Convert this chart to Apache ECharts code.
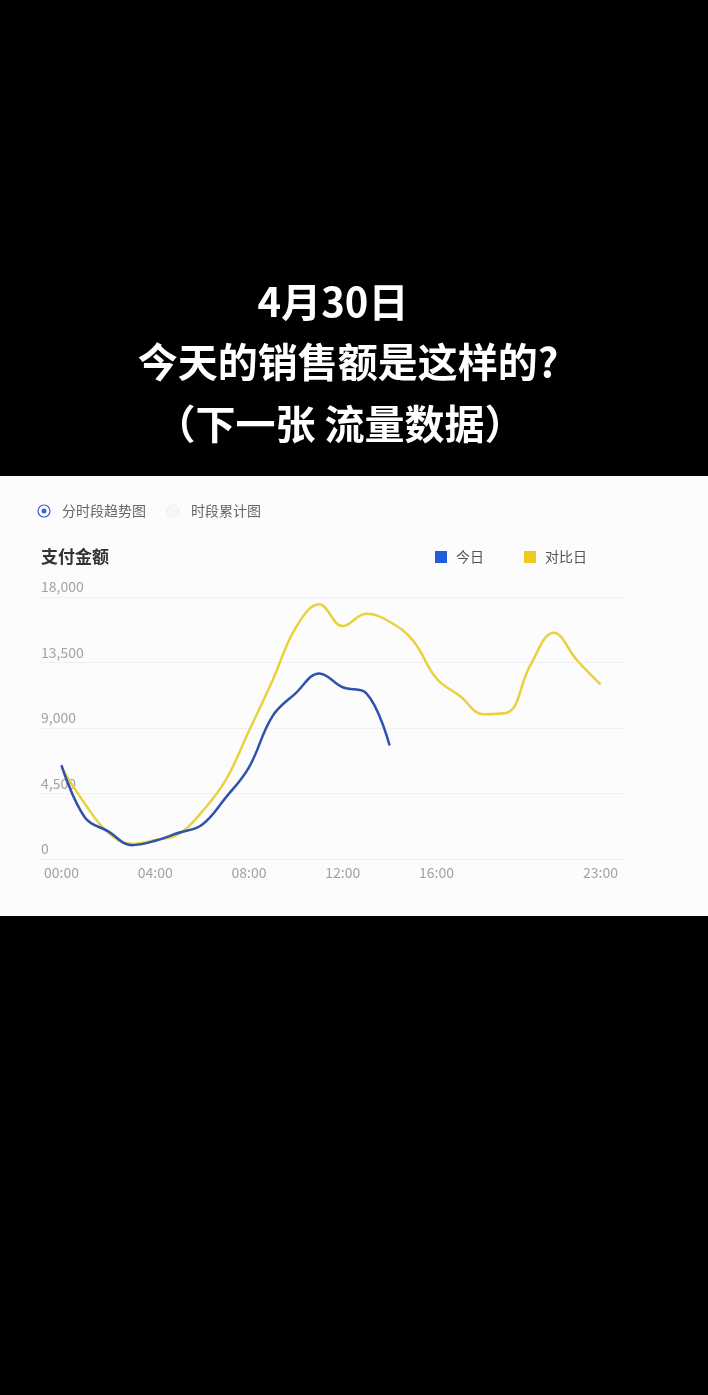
<!DOCTYPE html>
<html>
<head>
<meta charset="utf-8">
<script src="https://cdn.jsdelivr.net/npm/echarts@6/dist/echarts.min.js"></script>
<style>
  html, body { margin: 0; padding: 0; background: #000; }
  #chart { width: 708px; height: 1395px; }
</style>
</head>
<body>
<div id="chart"></div>
<script>
// hours 0..23, payment amount
var hours = [0, 1, 2, 3, 4, 5, 6, 7, 8, 9, 10, 11, 12, 13, 14, 15, 16, 17, 18, 19, 20, 21, 22, 23];
var today = [6450, 2850, 1900, 950, 1250, 1800, 2350, 4200, 6300, 9800, 11400, 12750, 11800, 11400, 7800];
var compareDay = [6300, 3800, 1800, 1050, 1300, 1700, 3250, 5400, 8800, 12250, 15900, 17500,
    16000, 16850, 16300, 15000, 12400, 11200, 9950, 10050, 13300, 15550, 13650, 12000];
var tickHours = [0, 4, 8, 12, 16, 23];
var seriesNames = ['今日', '对比日'];

var font = '"Noto Sans CJK SC", "Noto Sans", sans-serif';

function pairs(vals) {
    var out = [];
    for (var i = 0; i < vals.length; i++) {
        out.push([hours[i], vals[i]]);
    }
    return out;
}
function hh(v) {
    return (v < 10 ? '0' : '') + v + ':00';
}

var myChart = echarts.init(document.getElementById('chart'));

var option = {
    backgroundColor: '#000',
    textStyle: {fontFamily: font},
    graphic: [
        {type: 'rect', shape: {x: 0, y: 476, width: 708, height: 440}, style: {fill: '#fcfcfd'}, z: -10},
        {type: 'text', x: 333, y: 302, style: {text: '4月30日', fill: '#fff', font: 'bold 40px ' + font, textAlign: 'center', textVerticalAlign: 'middle'}},
        {type: 'text', x: 348, y: 362, style: {text: '今天的销售额是这样的?', fill: '#fff', font: 'bold 40px ' + font, textAlign: 'center', textVerticalAlign: 'middle'}},
        {type: 'text', x: 340, y: 424, style: {text: '（下一张 流量数据）', fill: '#fff', font: 'bold 40px ' + font, textAlign: 'center', textVerticalAlign: 'middle'}},
        // radio buttons
        {type: 'circle', shape: {cx: 44, cy: 511, r: 6}, style: {fill: '#fff', stroke: '#3b66c4', lineWidth: 1.2}},
        {type: 'circle', shape: {cx: 44, cy: 511, r: 2.5}, style: {fill: '#3b66c4'}},
        {type: 'text', x: 62, y: 511, style: {text: '分时段趋势图', fill: '#666', font: '14px ' + font, textVerticalAlign: 'middle'}},
        {type: 'circle', shape: {cx: 173, cy: 511, r: 6}, style: {fill: '#f7f7f8', stroke: '#ececee', lineWidth: 1}},
        {type: 'text', x: 191, y: 511, style: {text: '时段累计图', fill: '#666', font: '14px ' + font, textVerticalAlign: 'middle'}},
        {type: 'text', x: 41, y: 557, style: {text: '支付金额', fill: '#333', font: 'bold 17px ' + font, textVerticalAlign: 'middle'}}
    ],
    legend: {
        left: 430,
        top: 545,
        icon: 'rect',
        itemWidth: 12,
        itemHeight: 12,
        itemGap: 40,
        textStyle: {color: '#555', fontSize: 14, padding: [0, 0, 0, 4]},
        data: [
            {name: seriesNames[0], itemStyle: {color: '#1f5fd8'}},
            {name: seriesNames[1], itemStyle: {color: '#f0c91e'}}
        ]
    },
    grid: {left: 38, right: 84, top: 597, bottom: 536},
    xAxis: {
        type: 'value',
        min: -1,
        max: 24,
        axisLine: {show: false},
        axisTick: {show: false},
        splitLine: {show: false},
        axisLabel: {
            customValues: tickHours,
            color: '#a2a2a2',
            fontSize: 14,
            margin: 7,
            formatter: function (v) { return hh(v); }
        }
    },
    yAxis: {
        type: 'value',
        min: 0,
        max: 18000,
        interval: 4500,
        axisLine: {show: false},
        axisTick: {show: false},
        splitLine: {lineStyle: {color: '#eef0f4', width: 1}},
        axisLabel: {
            inside: true,
            margin: 3,
            color: '#a2a2a2',
            fontSize: 14,
            verticalAlign: 'bottom',
            padding: [0, 0, 3, 0],
            formatter: function (v) { return v.toLocaleString('en-US'); }
        }
    },
    series: [
        {
            name: seriesNames[0],
            type: 'line',
            smooth: 0.4,
            showSymbol: false,
            data: pairs(today),
            lineStyle: {color: '#2e53ad', width: 2.5},
            itemStyle: {color: '#1f5fd8'},
            z: 3
        },
        {
            name: seriesNames[1],
            type: 'line',
            smooth: 0.4,
            showSymbol: false,
            data: pairs(compareDay),
            lineStyle: {color: '#e9d23e', width: 2.5},
            itemStyle: {color: '#f0c91e'},
            z: 2
        }
    ]
};

myChart.setOption(option);
</script>
</body>
</html>
